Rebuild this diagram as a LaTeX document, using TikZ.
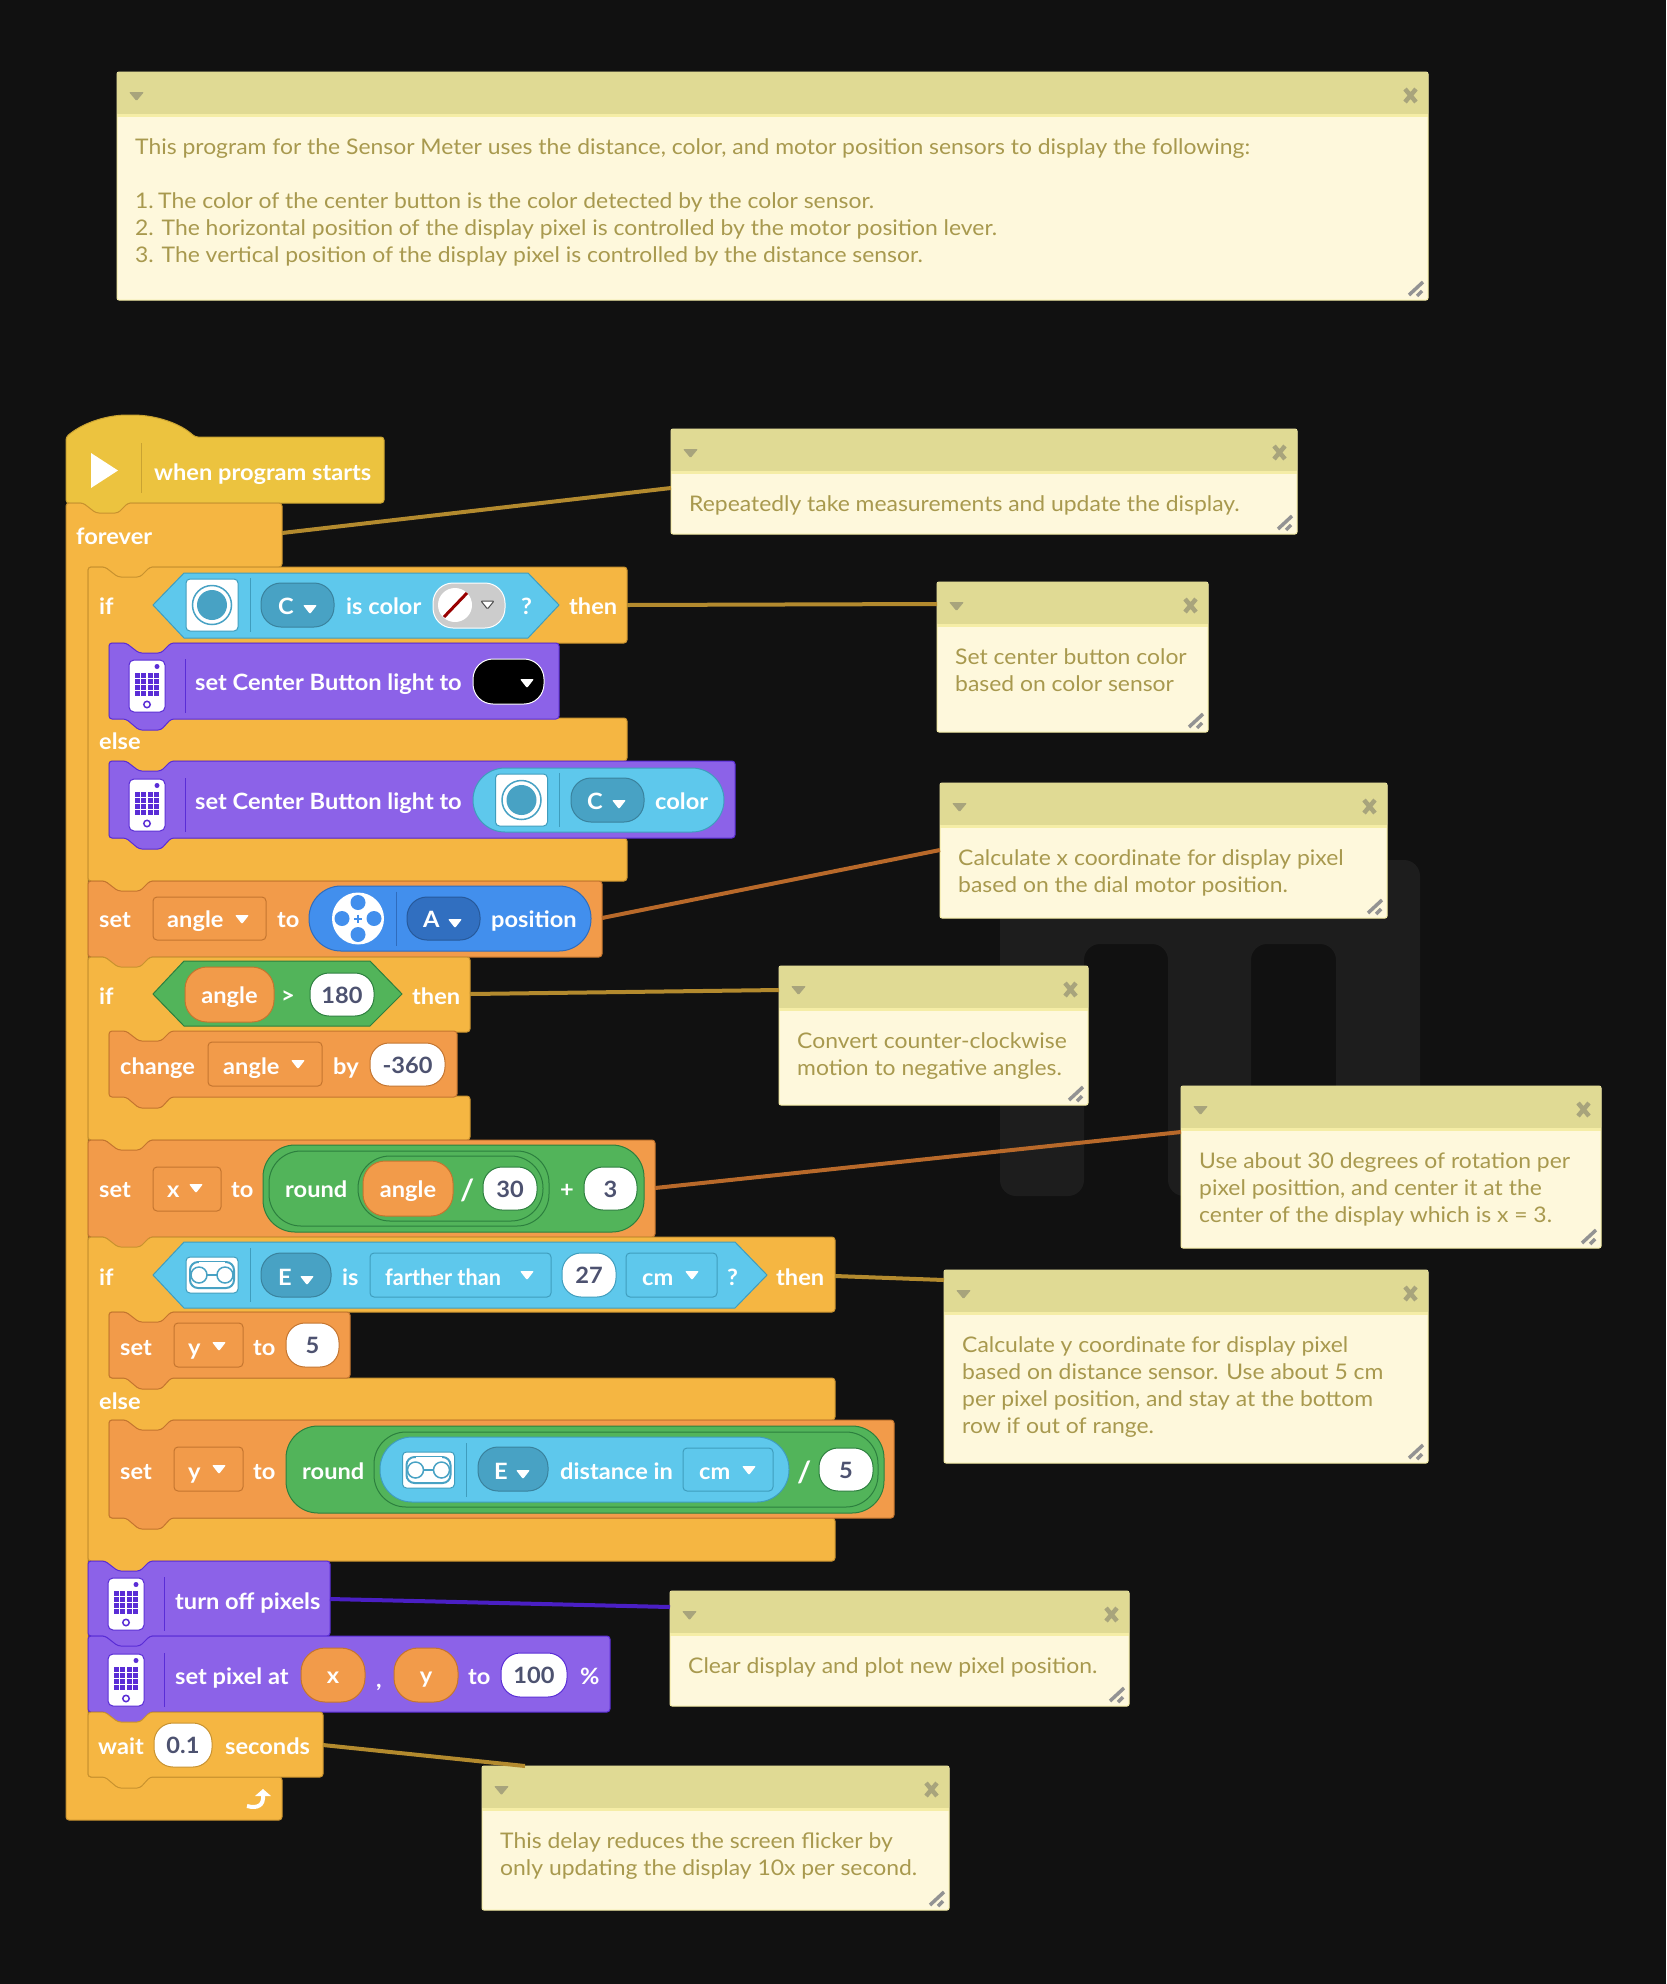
\documentclass[tikz,border=0pt]{standalone}
\usepackage{fontspec}
\setmainfont{Lato}
\newfontfamily\blockfam[FakeStretch=1.05]{Lato}
\newfontfamily\notefam[FakeStretch=1.065]{Lato}
\usetikzlibrary{arrows,positioning,calc}
\definecolor{canvas}{HTML}{111111}
\definecolor{markgray}{HTML}{1D1D1D}
\definecolor{hatfill}{HTML}{ECC33F}
\definecolor{hatline}{HTML}{C9A332}
\definecolor{ctrlfill}{HTML}{F5B642}
\definecolor{ctrlline}{HTML}{C8922F}
\definecolor{varfill}{HTML}{F29B4A}
\definecolor{varline}{HTML}{C4752F}
\definecolor{hubfill}{HTML}{8C62E8}
\definecolor{hubline}{HTML}{5A2DD6}
\definecolor{sensfill}{HTML}{5EC8EC}
\definecolor{sensline}{HTML}{3F9DBD}
\definecolor{sensport}{HTML}{48A2C4}
\definecolor{motofill}{HTML}{428FED}
\definecolor{motoline}{HTML}{2F6CBD}
\definecolor{motoport}{HTML}{316FC0}
\definecolor{opfill}{HTML}{52B45A}
\definecolor{opline}{HTML}{2C7F3E}
\definecolor{numtext}{HTML}{4D5270}
\definecolor{notehead}{HTML}{E0DA94}
\definecolor{notebody}{HTML}{FEF8DC}
\definecolor{noteedge}{HTML}{F5EDA6}
\definecolor{notetext}{HTML}{A8994E}
\definecolor{noteicon}{HTML}{A8A47C}
\definecolor{linkgold}{HTML}{B38A2E}
\definecolor{linkrust}{HTML}{B8692A}
\definecolor{linkhub}{HTML}{4A1FC4}
\newcommand{\blockfont}{\blockfam\fontsize{22.5}{26}\bfseries\selectfont}
\newcommand{\notefont}{\notefam\fontsize{21.5}{27}\selectfont}
\tikzset{
        blk/.style={ % Stack block outline
            rounded corners=3pt,
            line width=1pt},
        ctrl/.style={blk,fill=ctrlfill,draw=ctrlline},
        vari/.style={blk,fill=varfill,draw=varline},
        hub/.style={blk,fill=hubfill,draw=hubline},
        txt/.style={ % White label in a block
            anchor=base west,
            inner sep=0pt,
            yshift=-1pt,
            text=white,
            font=\blockfont},
        slotbase/.style={
            rectangle,
            inner sep=0pt,
            outer sep=0pt,
            line width=1pt,
            text height=17pt,
            text depth=0pt,
            text=white,
            font=\blockfont},
        numpill/.style={slotbase,fill=white,draw=#1,text=numtext,rounded corners=19pt},
        varpill/.style={slotbase,fill=varfill,draw=varline,rounded corners=22pt},
        varbox/.style={slotbase,fill=varfill,draw=varline,rounded corners=4pt},
        sensbox/.style={slotbase,fill=sensfill,draw=sensline,rounded corners=4pt},
        portpill/.style={slotbase,fill=#1,draw=#1!80!black,rounded corners=20pt},
        widepill/.style={slotbase,fill=#1,rounded corners=32pt},
        notebox/.style={ % Comment box
            rectangle,
            anchor=north west,
            inner sep=0pt,
            outer sep=0pt,
            fill=notebody,
            draw=noteedge,
            line width=1pt,
            rounded corners=2pt},
        notetxt/.style={
            anchor=north west,
            inner sep=0pt,
            align=left,
            text=notetext,
            font=\notefont},
        link/.style={line width=4pt},
        }
% top edge with the notch, left to right
\newcommand{\topnotch}[2]{-- (#1+17,#2) -- (#1+30,#2+10) -- (#1+52,#2+10) -- (#1+62,#2)}
% bottom edge with the bump, right to left
\newcommand{\botbump}[2]{-- (#1+62,#2) -- (#1+52,#2+11) -- (#1+30,#2+11) -- (#1+17,#2)}
\newcommand{\flatblock}[5]{\draw[#1] (#2,#3) \topnotch{#2}{#3} -- (#4,#3) -- (#4,#5) \botbump{#2}{#5} -- (#2,#5) -- cycle;}
\newcommand{\mkslot}[7]{\node[#1,minimum width={(#5-#3)*1pt},minimum height={(#6-#4)*1pt}] (#2) at ({(#3+#5)/2},{(#4+#6)/2}) {#7};}
\newcommand{\droptri}[2]{\fill[white,rounded corners=1pt] (#1-7,#2-4) -- (#1+7,#2-4) -- (#1,#2+5) -- cycle;}
\newcommand{\hubicon}[2]{%
    \draw[fill=white,draw=hubline,line width=1pt,rounded corners=5pt] (#1-18,#2-26) rectangle (#1+18,#2+26);
    \foreach \i in {0,1,2,3} \foreach \j in {0,1,2,3}
        \fill[hubline] (#1-12+6.3*\i,#2-13.5+6.3*\j) rectangle ++(5,5);
    \fill[hubline] (#1+10,#2-19.5) circle (2.5);
    \draw[hubline,line width=1.5pt] (#1,#2+18.5) circle (3.2);
    \draw[hubline,line width=1pt] (#1+38,#2-27) -- (#1+38,#2+27);}
\newcommand{\colicon}[2]{%
    \draw[fill=white,draw=sensline,line width=1pt,rounded corners=4pt] (#1-26,#2-26) rectangle (#1+26,#2+26);
    \draw[sensport,line width=1.5pt] (#1,#2) circle (19.5);
    \fill[sensport] (#1,#2) circle (15);
    \draw[sensline,line width=1pt] (#1+38,#2-27) -- (#1+38,#2+27);}
\newcommand{\disticon}[2]{%
    \draw[fill=white,draw=sensline,line width=1pt,rounded corners=4pt] (#1-26,#2-18) rectangle (#1+26,#2+18);
    \draw[sensport,line width=2pt,rounded corners=8pt] (#1-22,#2-13) rectangle (#1+22,#2+13);
    \fill[white] (#1-13,#2-13) rectangle (#1+13,#2-10);
    \draw[sensport,line width=1.5pt] (#1-13,#2) circle (8) (#1+13,#2) circle (8);
    \draw[sensport,line width=1.5pt] (#1-5,#2) -- (#1+5,#2);
    \draw[sensline,line width=1pt] (#1+38,#2-27) -- (#1+38,#2+27);}
\newcommand{\motoicon}[2]{%
    \fill[white] (#1,#2) circle (26);
    \foreach \a in {0,90,180,270} \fill[motofill] ($(#1,#2)+(\a:16)$) circle (7.5);
    \draw[motofill,line width=2pt] (#1-4,#2) -- (#1+4,#2) (#1,#2-4) -- (#1,#2+4);
    \draw[motoline,line width=1pt] (#1+38,#2-27) -- (#1+38,#2+27);}
% name, x, y, width, height, text
\newcommand{\comment}[6]{%
    \node[notebox,minimum width=#4pt,minimum height=#5pt] (#1) at (#2,#3) {};
    \fill[notehead,rounded corners=2pt] (#2,#3+43) -- (#2,#3) -- (#2+#4,#3) -- (#2+#4,#3+43) -- cycle;
    \fill[noteedge] (#2,#3+42) rectangle (#2+#4,#3+45);
    \fill[noteicon,rounded corners=1pt] (#2+12,#3+20) -- (#2+27,#3+20) -- (#2+19.5,#3+29) -- cycle;
    \draw[noteicon,line width=4.5pt] (#2+#4-23,#3+17) -- (#2+#4-12,#3+30) (#2+#4-12,#3+17) -- (#2+#4-23,#3+30);
    \draw[gray!85,line width=3.5pt] (#2+#4-19,#3+#5-5) -- (#2+#4-5,#3+#5-18) (#2+#4-11,#3+#5-4) -- (#2+#4-6,#3+#5-9);
    \node[notetxt] (#1txt) at (#2+18,#3+66) {#6};}

\begin{document}
\begin{tikzpicture}[x=1pt,y=-1pt]
    \useasboundingbox (0,0) rectangle (1666,1984);
    \fill[canvas] (0,0) rectangle (1666,1984);
    \fill[markgray,rounded corners=16pt] (1000,860) -- (1420,860) -- (1420,1196) -- (1336,1196) -- (1336,944) -- (1251,944)
        -- (1251,1196) -- (1168,1196) -- (1168,944) -- (1084,944) -- (1084,1196) -- (1000,1196) -- cycle;

    % hat and the forever loop
    \draw[blk,fill=hatfill,draw=hatline] (66,437) .. controls (85,421) and (110,415) .. (130,415) .. controls (155,415) and (180,423) .. (195,437)
        -- (384,437) -- (384,503) \botbump{66}{503} -- (66,503) -- cycle;
    \draw[hatline,line width=1pt] (141.5,443) -- (141.5,493);
    \fill[white] (91,453) -- (118,470.5) -- (91,488) -- cycle;
    \node[txt] (whenlbl) at (154,479) {when program starts};
    \draw[ctrl] (66,503) \topnotch{66}{503} -- (282,503) -- (282,567) \botbump{88}{567} -- (88,567) -- (88,1777)
        -- (282,1777) -- (282,1820) -- (66,1820) -- cycle;
    \node[txt] (foreverlbl) at (76,543) {forever};
    \draw[white,line width=4pt] (247,1806) .. controls (258,1809) and (264,1805) .. (263,1795);
    \fill[white] (255,1796) -- (263,1789) -- (271,1796) -- cycle;

    % first if
    \draw[ctrl] (88,567) \topnotch{88}{567} -- (627,567) -- (627,643) \botbump{109}{643} -- (109,643) -- (109,718) -- (627,718)
        -- (627,761) \botbump{109}{761} -- (109,761) -- (109,838) -- (627,838) -- (627,881) \botbump{88}{881} -- (88,881) -- cycle;
    \node[txt] (ifalbl) at (99,613) {if};
    \draw[fill=sensfill,draw=sensline,line width=1pt] (153,605) -- (184,573) -- (528,573) -- (559,605) -- (528,638) -- (184,638) -- cycle;
    \colicon{212}{605}
    \mkslot{portpill=sensport}{portc}{261}{583}{334}{627}{}
    \node[txt] (portclbl) at (278,613) {C};
    \droptri{310}{609}
    \node[txt] (iscolorlbl) at (346,613) {is color};
    \mkslot{slotbase,fill=black!20,draw=white,rounded corners=20pt}{picker}{433}{583}{505}{628}{}
    \fill[white] (455,605) circle (17);
    \draw[red!60!black,line width=3pt] (444,617) -- (467,593);
    \draw[fill=white,draw=black!70,line width=1pt,rounded corners=1pt] (481,601) -- (494,601) -- (487.5,609) -- cycle;
    \node[txt] (askalbl) at (521,613) {?};
    \node[txt] (thenalbl) at (569,613) {then};
    \flatblock{hub}{109}{643}{559}{719}
    \hubicon{147}{686}
    \node[txt] (lightalbl) at (195,689) {set Center Button light to};
    \mkslot{slotbase,fill=black,draw=white,rounded corners=20pt}{swatch}{473}{659}{544}{704}{}
    \droptri{527}{683}
    \node[txt] (elsealbl) at (99,748) {else};
    \flatblock{hub}{109}{761}{735}{838}
    \hubicon{147}{805}
    \node[txt] (lightblbl) at (195,808) {set Center Button light to};
    \mkslot{widepill=sensfill,draw=sensline}{colorpill}{473}{768}{724}{832}{}
    \colicon{521.5}{800}
    \mkslot{portpill=sensport}{portd}{571}{778}{644}{822}{}
    \node[txt] (portdlbl) at (587,808) {C};
    \droptri{619}{804}
    \node[txt] (colorlbl) at (655,808) {color};

    % set angle
    \flatblock{vari}{88}{881}{602}{957}
    \node[txt] (setalbl) at (99,926) {set};
    \mkslot{varbox}{varangle}{153}{897}{266}{940}{}
    \node[txt] (anglealbl) at (167,926) {angle};
    \droptri{242}{919}
    \node[txt] (toalbl) at (277,926) {to};
    \mkslot{widepill=motofill,draw=motoline}{motopill}{309}{886}{591}{951}{}
    \motoicon{358}{918.5}
    \mkslot{portpill=motoport}{porta}{407}{897}{480}{940}{}
    \node[txt] (portalbl) at (423,926) {A};
    \droptri{455}{923}
    \node[txt] (positionlbl) at (491,926) {position};

    % second if
    \draw[ctrl] (88,957) \topnotch{88}{957} -- (470,957) -- (470,1032) \botbump{109}{1032} -- (109,1032) -- (109,1096) -- (470,1096)
        -- (470,1140) \botbump{88}{1140} -- (88,1140) -- cycle;
    \node[txt] (ifblbl) at (99,1003) {if};
    \draw[fill=opfill,draw=opline,line width=1pt] (153,994) -- (184,961) -- (370,961) -- (402,994) -- (370,1026) -- (184,1026) -- cycle;
    \mkslot{varpill}{anglepilla}{185}{967}{274}{1022}{angle}
    \node[txt] (gtlbl) at (281,1002) {>};
    \mkslot{numpill=opline}{numc}{310}{973}{374}{1016}{180}
    \node[txt] (thenblbl) at (412,1003) {then};
    \flatblock{vari}{109}{1031}{457}{1097}
    \node[txt] (changelbl) at (120,1073) {change};
    \mkslot{varbox}{varangleb}{208}{1042}{322}{1086}{}
    \node[txt] (anglemidlbl) at (223,1073) {angle};
    \droptri{298}{1064}
    \node[txt] (bylbl) at (333,1073) {by};
    \mkslot{numpill=varline}{numd}{370}{1043}{445}{1086}{-360}

    % set x
    \flatblock{vari}{88}{1140}{655}{1237}
    \node[txt] (setxlbl) at (99,1196) {set};
    \mkslot{varbox}{varx}{153}{1167}{221}{1211}{}
    \node[txt] (xlbl) at (167,1196) {x};
    \droptri{196}{1188}
    \node[txt] (toxlbl) at (231,1196) {to};
    \mkslot{widepill=opfill,draw=opline}{roundouter}{263}{1145}{644}{1232}{}
    \mkslot{widepill=opfill,draw=opline}{roundring}{269}{1151}{549}{1226}{}
    \node[txt] (roundalbl) at (285,1196) {round};
    \mkslot{widepill=opfill,draw=opline}{divring}{358}{1156}{543}{1221}{}
    \mkslot{varpill}{anglepillb}{363}{1161}{453}{1216}{angle}
    \node[txt,font=\blockfam\fontsize{29}{29}\bfseries\selectfont] (slashalbl) at (460,1199) {/};
    \mkslot{numpill=opline}{nume}{483}{1167}{537}{1210}{30}
    \node[txt] (pluslbl) at (560,1196) {+};
    \mkslot{numpill=opline}{numf}{584}{1167}{637}{1210}{3}

    % third if
    \draw[ctrl] (88,1237) \topnotch{88}{1237} -- (835,1237) -- (835,1312) \botbump{109}{1312} -- (109,1312) -- (109,1378) -- (835,1378)
        -- (835,1420) \botbump{109}{1420} -- (109,1420) -- (109,1518) -- (835,1518) -- (835,1561) \botbump{88}{1561} -- (88,1561) -- cycle;
    \node[txt] (ifclbl) at (99,1284) {if};
    \draw[fill=sensfill,draw=sensline,line width=1pt] (153,1275) -- (184,1242) -- (735,1242) -- (767,1275) -- (735,1308) -- (184,1308) -- cycle;
    \disticon{212}{1275}
    \mkslot{portpill=sensport}{porte}{261}{1253}{331}{1297}{}
    \node[txt] (portelbl) at (278,1284) {E};
    \droptri{307}{1280}
    \node[txt] (islbl) at (342,1284) {is};
    \mkslot{sensbox}{farbox}{370}{1253}{551}{1297}{}
    \node[txt] (farlbl) at (385,1284) {\scalebox{0.92}[1]{farther than}};
    \droptri{527}{1275}
    \mkslot{numpill=sensline}{numg}{562}{1253}{616}{1297}{27}
    \mkslot{sensbox}{cmboxa}{626}{1253}{717}{1297}{}
    \node[txt] (cmalbl) at (642,1284) {cm};
    \droptri{692}{1275}
    \node[txt] (askblbl) at (727,1284) {?};
    \node[txt] (thenclbl) at (776,1284) {then};
    \flatblock{vari}{109}{1312}{350}{1378}
    \node[txt] (setylbl) at (120,1354) {set};
    \mkslot{varbox}{vary}{174}{1323}{243}{1367}{}
    \node[txt] (ylbl) at (188,1354) {y};
    \droptri{219}{1346}
    \node[txt] (toylbl) at (253,1354) {to};
    \mkslot{numpill=varline}{numh}{286}{1323}{339}{1367}{5}
    \node[txt] (elseblbl) at (99,1408) {else};
    \flatblock{vari}{109}{1420}{894}{1518}
    \node[txt] (setzlbl) at (120,1478) {set};
    \mkslot{varbox}{varyb}{174}{1447}{243}{1491}{}
    \node[txt] (yblbl) at (188,1478) {y};
    \droptri{219}{1469}
    \node[txt] (tozlbl) at (253,1478) {to};
    \mkslot{widepill=opfill,draw=opline}{roundb}{286}{1426}{884}{1513}{}
    \node[txt] (roundblbl) at (302,1478) {round};
    \mkslot{widepill=opfill,draw=opline}{roundbring}{374}{1432}{878}{1507}{}
    \mkslot{widepill=sensfill,draw=sensline}{distpill}{380}{1437}{789}{1502}{}
    \disticon{428.5}{1470}
    \mkslot{portpill=sensport}{portf}{478}{1447}{548}{1491}{}
    \node[txt] (portflbl) at (494,1478) {E};
    \droptri{523}{1474}
    \node[txt] (distlbl) at (560,1478) {distance in};
    \mkslot{sensbox}{cmboxb}{683}{1448}{773}{1491}{}
    \node[txt] (cmblbl) at (699,1478) {cm};
    \droptri{749}{1470}
    \node[txt,font=\blockfam\fontsize{29}{29}\bfseries\selectfont] (slashblbl) at (797,1481) {/};
    \mkslot{numpill=opline}{numi}{819}{1448}{873}{1491}{5}

    % pixels and wait
    \flatblock{hub}{88}{1561}{330}{1636}
    \hubicon{126}{1604}
    \node[txt] (offlbl) at (175,1608) {turn off pixels};
    \flatblock{hub}{88}{1636}{610}{1712}
    \hubicon{126}{1680}
    \node[txt] (pixellbl) at (175,1683) {set pixel at};
    \mkslot{slotbase,fill=varfill,draw=varline,rounded corners=24pt}{pillx}{301}{1648}{365}{1702}{x}
    \node[txt] (commalbl) at (376,1686) {,};
    \mkslot{slotbase,fill=varfill,draw=varline,rounded corners=24pt}{pilly}{394}{1648}{458}{1702}{y}
    \node[txt] (topixlbl) at (468,1683) {to};
    \mkslot{numpill=hubline}{numj}{501}{1653}{567}{1697}{100}
    \node[txt] (pctlbl) at (580,1683) {\%};
    \flatblock{ctrl}{88}{1712}{323}{1777}
    \node[txt] (waitlbl) at (98,1753) {wait};
    \mkslot{numpill=ctrlline}{numk}{154}{1723}{212}{1767}{0.1}
    \node[txt] (secondslbl) at (225,1753) {seconds};

    % comments
    \comment{notea}{117}{72}{1311}{228}{This program for the Sensor Meter uses the distance, color, and motor position sensors to display the following:\\[27pt]1.\kern-1.5pt\ The color of the center button is the color detected by the color sensor.\\2. The horizontal position of the display pixel is controlled by the motor position lever.\\3. The vertical position of the display pixel is controlled by the distance sensor.}
    \comment{noteb}{671}{429}{626}{105}{Repeatedly take measurements and update the display.}
    \comment{notec}{937}{582}{271}{150}{Set center button color\\based on color sensor}
    \comment{noted}{940}{783}{447}{135}{Calculate x coordinate for display pixel\\based on the dial motor position.}
    \comment{notee}{779}{966}{309}{139}{Convert counter-clockwise\\motion to negative angles.}
    \comment{notef}{1181}{1086}{420}{162}{Use about 30 degrees of rotation per\\pixel posittion, and center it at the\\center of the display which is x = 3.}
    \comment{noteg}{944}{1270}{484}{193}{Calculate y coordinate for display pixel\\based on distance sensor. Use about 5 cm\\per pixel position, and stay at the bottom\\row if out of range.}
    \comment{noteh}{670}{1591}{459}{115}{Clear display and plot new pixel position.}
    \comment{notei}{482}{1766}{467}{144}{This delay reduces the screen flicker by\\only updating the display 10x per second.}

    % connectors
    \coordinate (foreverend) at (282,533);
    \coordinate (ifaend) at (627,605);
    \coordinate (setaend) at (602,918);
    \coordinate (ifbend) at (470,994);
    \coordinate (setxend) at (655,1188);
    \coordinate (ifcend) at (835,1276);
    \coordinate (offend) at (330,1599);
    \coordinate (waitend) at (323,1745);
    \draw[link,linkgold] (foreverend) -- ([yshift=-59pt]noteb.north west);
    \draw[link,linkgold] (ifaend) -- ([yshift=-22pt]notec.north west);
    \draw[link,linkrust] (setaend) -- ([yshift=-67pt]noted.north west);
    \draw[link,linkgold] (ifbend) -- ([yshift=-24pt]notee.north west);
    \draw[link,linkrust] (setxend) -- ([yshift=-46pt]notef.north west);
    \draw[link,linkgold] (ifcend) -- ([yshift=-10pt]noteg.north west);
    \draw[link,linkhub] (offend) -- ([yshift=-16pt]noteh.north west);
    \draw[link,linkgold] (waitend) -- ([xshift=43pt]notei.north west);
\end{tikzpicture}
\end{document}
